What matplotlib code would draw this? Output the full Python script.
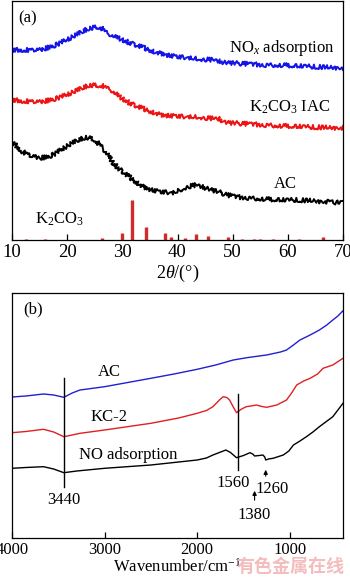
"""XRD patterns (a) and FTIR spectra (b) of AC, K2CO3 IAC and NO-adsorbed samples."""

import matplotlib
matplotlib.use("Agg")
import matplotlib.pyplot as plt

plt.rcParams.update({
    "font.family": ["Liberation Serif", "DejaVu Serif"],
    "font.size": 12,
    "mathtext.fontset": "custom",
    "mathtext.rm": "Liberation Serif",
    "mathtext.it": "Liberation Serif:italic",
    "axes.linewidth": 0.9,
})

# ---- (a) XRD, intensity in arbitrary units ----
xrd_2theta_blue = [10, 12, 15, 17, 20, 22, 24, 26, 27, 28, 30, 32, 34, 36, 38, 40, 42, 44, 46.5, 48, 50, 53, 56, 59, 62, 66, 70]
xrd_noxads = [190, 190, 190, 193, 200, 206, 212, 213, 208, 205, 200, 196, 192, 188, 185, 183, 182, 181, 180, 178, 177, 176, 175, 175, 174, 173, 172]

xrd_2theta_red = [10, 12, 15, 17, 20, 22, 24, 26.5, 28, 29.5, 31, 33, 35, 37, 39, 41.6, 44, 45, 47.6, 48.5, 50, 53, 56, 60, 64, 70]
xrd_k2co3iac = [140, 139, 138, 140, 145, 150, 155, 154, 150, 143, 138, 133, 129, 125, 124, 123, 123, 122, 121, 118, 117, 116, 115, 114, 113, 112]

xrd_2theta_black = [10, 11, 12, 13.5, 15, 16.5, 18, 19.5, 21, 22.5, 23.5, 25, 26.5, 27.5, 28.3, 29.5, 30.8, 32.3, 33.8, 35.3, 36.8, 39.2, 40.5, 41.6, 43.4, 44.5, 45.8, 47.5, 49, 51, 53, 56, 59, 62, 65, 70]
xrd_ac = [98, 93, 88, 84, 82, 83, 87, 92, 97, 101, 103, 100, 92, 84, 77, 71, 65, 59, 53, 50, 48, 47, 50, 53, 55, 53, 51, 48, 45, 43, 42, 41, 40, 40, 39, 37]

# K2CO3 reference pattern (stick heights)
k2co3_pos = [12.5, 16.0, 26.3, 30.0, 31.7, 34.2, 37.8, 38.9, 41.4, 43.3, 45.6, 49.2, 51.7, 53.9, 55.0, 57.4, 62.0, 66.3]
k2co3_int = [1.0, 1.0, 2.0, 6.7, 40, 13, 6.7, 3.3, 2.0, 6.0, 4.0, 3.3, 1.3, 1.0, 1.0, 1.3, 0.8, 2.7]

# ---- (b) FTIR, transmittance in arbitrary units ----
wn_blue = [4000, 3850, 3660, 3550, 3440, 3350, 3265, 3000, 2750, 2500, 2250, 2000, 1800, 1610, 1450, 1250, 1100, 1035, 960, 890, 780, 680, 600, 535, 480, 425]
ir_ac = [141, 142, 144, 143, 140.7, 145, 148, 151.3, 155.5, 159.7, 164, 168.7, 173, 178, 180.5, 183, 186, 188, 193, 198, 203, 208, 213, 218, 222, 227.3]

wn_red = [4000, 3850, 3660, 3550, 3440, 3350, 3265, 3000, 2500, 2200, 2000, 1900, 1830, 1760, 1720, 1680, 1650, 1610, 1575, 1520, 1470, 1420, 1360, 1300, 1250, 1140, 1035, 980, 925, 850, 780, 700, 640, 535, 425]
ir_kc2 = [105.3, 106.5, 108.7, 106, 101.3, 103, 104.7, 108, 114.7, 120, 124.7, 127.5, 131.3, 138, 141.3, 140.5, 138, 131, 125.3, 129, 131.3, 132, 133, 131.5, 130.7, 133, 138, 145, 153, 157, 159.7, 164, 169.7, 173, 179.7]

wn_black = [4000, 3850, 3660, 3550, 3440, 3300, 3000, 2500, 2200, 2000, 1900, 1830, 1760, 1690, 1640, 1575, 1500, 1430, 1400, 1380, 1330, 1290, 1270, 1260, 1230, 1180, 1070, 1010, 960, 890, 820, 750, 680, 535, 425]
ir_noads = [69.7, 70.5, 71.3, 69, 65.3, 67, 69.7, 73, 76, 78, 80, 83, 85.5, 88, 85.5, 80.3, 82.5, 85.3, 84, 82, 82.5, 83, 81, 78, 79, 79.7, 83, 87, 93, 97, 101.3, 106, 111.3, 121.3, 134.7]

peak_3440 = (3440, 51, 160)
peak_1560 = (1560, 68, 144)

fig = plt.figure(figsize=(3.5, 5.79), dpi=100)

# Panel (a)
ax = fig.add_axes([12 / 350, 1 - 240 / 579, 331 / 350, 239 / 579])
for x, y, c in ((xrd_2theta_blue, xrd_noxads, "#1414e6"),
                (xrd_2theta_red, xrd_k2co3iac, "#ec1414"),
                (xrd_2theta_black, xrd_ac, "black")):
    line, = ax.plot(x, y, color=c, linewidth=1.4)
    line.set_sketch_params(scale=2.2, length=1.2, randomness=3)  # noisy XRD look
ax.vlines(k2co3_pos, 0, k2co3_int, color="#d42a2a", linewidth=2.4)
ax.set_xlim(10, 70)
ax.set_ylim(0, 239)
ax.set_xticks([10, 20, 30, 40, 50, 60, 70])
ax.set_yticks([])
ax.tick_params(axis="x", direction="in", length=4, width=0.9, labelsize=13.5, pad=3)
ax.set_xlabel(r"$\mathit{2\theta}$/(°)", fontsize=13, labelpad=1)
ax.text(0.02, 0.96, "(a)", transform=ax.transAxes, fontsize=12, va="top")
ax.text(0.655, 0.805, r"NO$_x$ adsorption", transform=ax.transAxes, fontsize=12, va="center")
ax.text(0.715, 0.555, r"K$_2$CO$_3$ IAC", transform=ax.transAxes, fontsize=12, va="center")
ax.text(0.79, 0.235, "AC", transform=ax.transAxes, fontsize=12, va="center")
ax.text(0.07, 0.085, r"K$_2$CO$_3$", transform=ax.transAxes, fontsize=12, va="center")

# Panel (b)
ax = fig.add_axes([12 / 350, 1 - 538 / 579, 331 / 350, 245 / 579])
ax.plot(wn_blue, ir_ac, color="#2020d0", linewidth=1.0)
ax.plot(wn_red, ir_kc2, color="#e02020", linewidth=1.0)
ax.plot(wn_black, ir_noads, color="black", linewidth=1.0)
for wn, y0, y1 in (peak_3440, peak_1560):
    ax.plot([wn, wn], [y0, y1], color="black", linewidth=1.0)
ax.annotate("", xy=(1380, 50), xytext=(1380, 35),
            arrowprops=dict(arrowstyle="-|>", color="black", lw=0.8, mutation_scale=6))
ax.annotate("", xy=(1260, 71), xytext=(1260, 59),
            arrowprops=dict(arrowstyle="-|>", color="black", lw=0.8, mutation_scale=6))
ax.text(3440, 38, "3440", ha="center", va="center", fontsize=12)
ax.text(1610, 55, "1560", ha="center", va="center", fontsize=12)
ax.text(1190, 49, "1260", ha="center", va="center", fontsize=12)
ax.text(1380, 23, "1380", ha="center", va="center", fontsize=12)
ax.text(2950, 166, "AC", ha="center", va="center", fontsize=12)
ax.text(2950, 121, "KC-2", ha="center", va="center", fontsize=12)
ax.text(2740, 83, "NO adsorption", ha="center", va="center", fontsize=12)
ax.text(0.035, 0.935, "(b)", transform=ax.transAxes, fontsize=12, va="center")
ax.set_xlim(4000, 425)
ax.set_ylim(0, 245)
ax.set_xticks([4000, 3000, 2000, 1000])
ax.set_yticks([])
ax.tick_params(axis="x", direction="in", length=4, width=0.9, labelsize=12, pad=3)
ax.set_xlabel("Wavenumber/cm$^{-1}$", fontsize=12, labelpad=0)

fig.text(0.985, 0.022, "有色金属在线", ha="right", va="center", fontsize=13,
         color="#f4bcbc", family=["Noto Sans CJK SC", "DejaVu Sans"], fontweight="bold")

fig.savefig("out.png", dpi=100)
